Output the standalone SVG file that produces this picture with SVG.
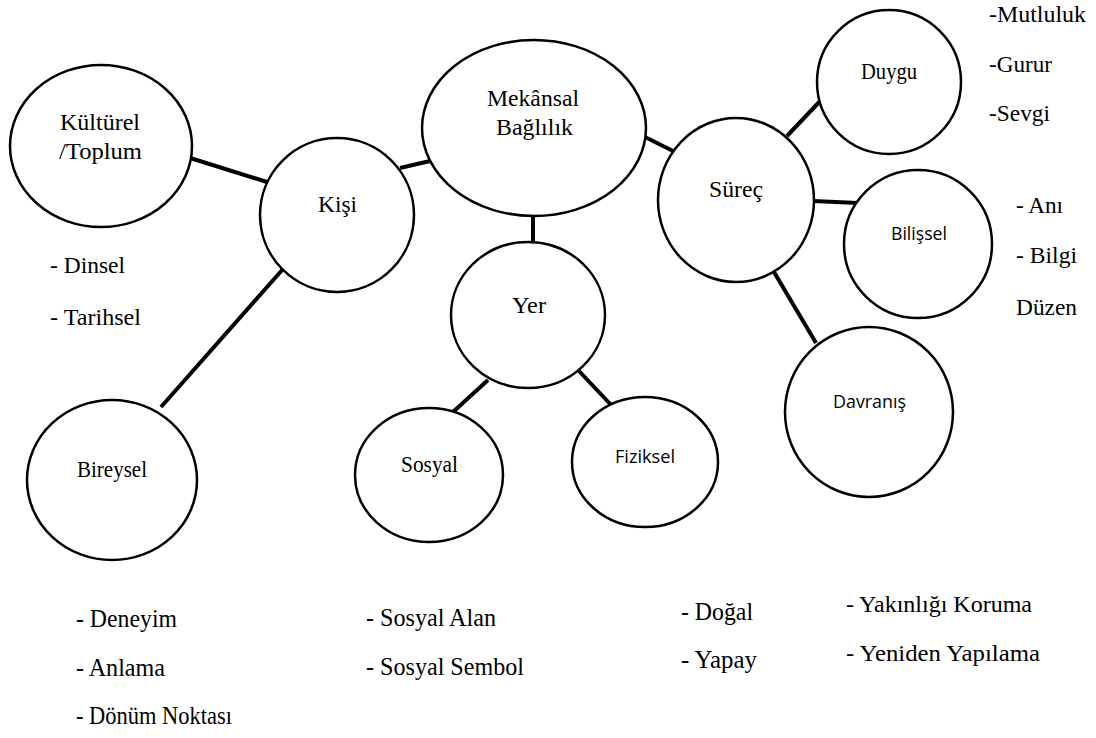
<svg xmlns="http://www.w3.org/2000/svg" width="1096" height="738" viewBox="0 0 1096 738">
<style>
.n{fill:#fff;stroke:#000;stroke-width:2.5}
.c{stroke:#000;stroke-width:4;fill:none}
.t{font-size:23px;fill:#000}
.b{font-size:25px;fill:#000}
.s{font-size:19px;fill:#000}
</style>
<rect width="1096" height="738" fill="#fff"/>
<g id="connectors">
<line class="c" x1="187" y1="157" x2="267" y2="182"/>
<line class="c" x1="400" y1="168" x2="430" y2="161"/>
<line class="c" x1="283" y1="269" x2="161" y2="407"/>
<line class="c" x1="533" y1="213" x2="533" y2="242"/>
<line class="c" x1="488" y1="380" x2="453" y2="412"/>
<line class="c" x1="579" y1="371" x2="613" y2="407"/>
<line class="c" x1="645" y1="137" x2="675" y2="152"/>
<line class="c" x1="787" y1="136" x2="823" y2="98"/>
<line class="c" x1="813" y1="201" x2="858" y2="203"/>
<line class="c" x1="774" y1="272" x2="816" y2="343"/>
</g>
<g id="kulturel">
<ellipse class="n" cx="101" cy="146" rx="91" ry="81"/>
<text class="t" font-family="Liberation Serif" x="60" y="130" textLength="80" lengthAdjust="spacingAndGlyphs">Kültürel</text>
<text class="t" font-family="Liberation Serif" x="59" y="159" textLength="83" lengthAdjust="spacingAndGlyphs">/Toplum</text>
</g>
<g id="kisi">
<ellipse class="n" cx="337" cy="215" rx="77" ry="77"/>
<text class="t" font-family="Liberation Serif" x="318" y="212" textLength="39" lengthAdjust="spacingAndGlyphs">Kişi</text>
</g>
<g id="mekansal">
<ellipse class="n" cx="534" cy="128" rx="112" ry="88"/>
<text class="t" font-family="Liberation Serif" x="487" y="106" textLength="92" lengthAdjust="spacingAndGlyphs">Mekânsal</text>
<text class="t" font-family="Liberation Serif" x="496" y="135" textLength="77" lengthAdjust="spacingAndGlyphs">Bağlılık</text>
</g>
<g id="surec">
<ellipse class="n" cx="736" cy="200" rx="78" ry="82"/>
<text class="t" font-family="Liberation Serif" x="709" y="197" textLength="54" lengthAdjust="spacingAndGlyphs">Süreç</text>
</g>
<g id="duygu">
<ellipse class="n" cx="889" cy="82" rx="72" ry="72"/>
<text class="t" font-family="Liberation Serif" x="861" y="79" textLength="56" lengthAdjust="spacingAndGlyphs">Duygu</text>
</g>
<g id="bilissel">
<ellipse class="n" cx="918" cy="244" rx="74" ry="74"/>
<text class="s" font-family="Open Sans" x="891" y="240" textLength="56" lengthAdjust="spacingAndGlyphs">Bilişsel</text>
</g>
<g id="davranis">
<ellipse class="n" cx="869" cy="412" rx="84" ry="85"/>
<text class="s" font-family="Open Sans" x="833" y="408" textLength="73" lengthAdjust="spacingAndGlyphs">Davranış</text>
</g>
<g id="yer">
<ellipse class="n" cx="528" cy="315" rx="77" ry="73"/>
<text class="t" font-family="Liberation Serif" x="512" y="313" textLength="34" lengthAdjust="spacingAndGlyphs">Yer</text>
</g>
<g id="sosyal">
<ellipse class="n" cx="429" cy="475" rx="74" ry="67"/>
<text class="t" font-family="Liberation Serif" x="401" y="472" textLength="57" lengthAdjust="spacingAndGlyphs">Sosyal</text>
</g>
<g id="fiziksel">
<ellipse class="n" cx="645" cy="462" rx="73" ry="65"/>
<text class="s" font-family="Open Sans" x="615" y="463" textLength="60" lengthAdjust="spacingAndGlyphs">Fiziksel</text>
</g>
<g id="bireysel">
<ellipse class="n" cx="112" cy="480" rx="85" ry="80"/>
<text class="t" font-family="Liberation Serif" x="77" y="477" textLength="70" lengthAdjust="spacingAndGlyphs">Bireysel</text>
</g>
<g id="labels">
<text class="t" font-family="Liberation Serif" x="989" y="22" textLength="97" lengthAdjust="spacingAndGlyphs">-Mutluluk</text>
<text class="t" font-family="Liberation Serif" x="989" y="72" textLength="63" lengthAdjust="spacingAndGlyphs">-Gurur</text>
<text class="t" font-family="Liberation Serif" x="989" y="121" textLength="61" lengthAdjust="spacingAndGlyphs">-Sevgi</text>
<text class="t" font-family="Liberation Serif" x="1016" y="213" textLength="47" lengthAdjust="spacingAndGlyphs">- Anı</text>
<text class="t" font-family="Liberation Serif" x="1016" y="263" textLength="61" lengthAdjust="spacingAndGlyphs">- Bilgi</text>
<text class="t" font-family="Liberation Serif" x="1016" y="315" textLength="61" lengthAdjust="spacingAndGlyphs">Düzen</text>
<text class="t" font-family="Liberation Serif" x="50" y="273" textLength="75" lengthAdjust="spacingAndGlyphs">- Dinsel</text>
<text class="t" font-family="Liberation Serif" x="50" y="325" textLength="91" lengthAdjust="spacingAndGlyphs">- Tarihsel</text>
<text class="b" font-family="Liberation Serif" x="76" y="627" textLength="101" lengthAdjust="spacingAndGlyphs">- Deneyim</text>
<text class="b" font-family="Liberation Serif" x="76" y="676" textLength="89" lengthAdjust="spacingAndGlyphs">- Anlama</text>
<text class="b" font-family="Liberation Serif" x="76" y="724" textLength="156" lengthAdjust="spacingAndGlyphs">- Dönüm Noktası</text>
<text class="b" font-family="Liberation Serif" x="366" y="626" textLength="130" lengthAdjust="spacingAndGlyphs">- Sosyal Alan</text>
<text class="b" font-family="Liberation Serif" x="366" y="675" textLength="158" lengthAdjust="spacingAndGlyphs">- Sosyal Sembol</text>
<text class="b" font-family="Liberation Serif" x="681" y="620" textLength="72" lengthAdjust="spacingAndGlyphs">- Doğal</text>
<text class="b" font-family="Liberation Serif" x="681" y="668" textLength="76" lengthAdjust="spacingAndGlyphs">- Yapay</text>
<text class="t" font-family="Liberation Serif" x="846" y="612" textLength="186" lengthAdjust="spacingAndGlyphs">- Yakınlığı Koruma</text>
<text class="t" font-family="Liberation Serif" x="846" y="661" textLength="194" lengthAdjust="spacingAndGlyphs">- Yeniden Yapılama</text>
</g>
</svg>
